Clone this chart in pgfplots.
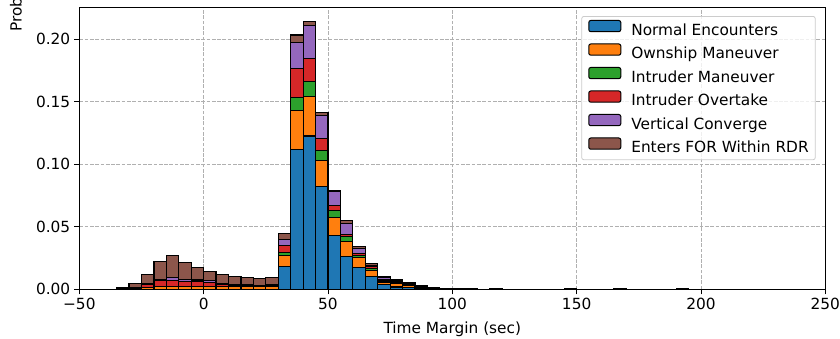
\documentclass[border=0pt]{standalone}
\usepackage{pgfplots}
\pgfplotsset{compat=1.18}
\usepackage{pgfplotstable}
\usepackage{fontspec}
\setmainfont{DejaVu Sans}

% tab10 palette
\definecolor{cBlue}{HTML}{1F77B4}
\definecolor{cOrange}{HTML}{FF7F0E}
\definecolor{cGreen}{HTML}{2CA02C}
\definecolor{cRed}{HTML}{D62728}
\definecolor{cPurple}{HTML}{9467BD}
\definecolor{cBrown}{HTML}{8C564B}
\definecolor{gridgray}{HTML}{B0B0B0}

\newcommand\lbl{\fontsize{15.4}{18.5}\selectfont}

% Per-bin probability of each encounter class (bins 5 s wide, x = bin centre)
\pgfplotstableread{
x      nrm    own    intm   intov  vert   efor
-32.5  0      0.0003 0      0.0003 0.0002 0.0008
-27.5  0      0.0005 0      0.0010 0.0003 0.0030
-22.5  0      0.0015 0.0002 0.0025 0.0006 0.0072
-17.5  0      0.0021 0.0002 0.0046 0.0013 0.0144
-12.5  0      0.0021 0.0002 0.0046 0.0024 0.0181
-7.5   0      0.0021 0.0002 0.0038 0.0021 0.0134
-2.5   0      0.0021 0.0002 0.0039 0.0013 0.0101
2.5    0      0.0021 0.0004 0.0030 0.0014 0.0072
7.5    0      0.0021 0.0004 0.0015 0.0010 0.0072
12.5   0      0.0021 0.0002 0.0012 0.0007 0.0064
17.5   0      0.0021 0.0002 0.0007 0.0006 0.0057
22.5   0      0.0021 0.0002 0.0005 0.0006 0.0051
27.5   0      0.0027 0.0002 0.0005 0.0006 0.0058
32.5   0.0186 0.0086 0.0021 0.0061 0.0046 0.0048
37.5   0.1122 0.0307 0.0104 0.0232 0.0211 0.0058
42.5   0.1226 0.0315 0.0120 0.0187 0.0261 0.0032
47.5   0.0821 0.0208 0.0085 0.0091 0.0187 0.0024
52.5   0.0434 0.0139 0.0056 0.0045 0.0107 0.0013
57.5   0.0266 0.0115 0.0040 0.0019 0.0088 0.0021
62.5   0.0176 0.0080 0.0018 0.0014 0.0040 0.0013
67.5   0.0106 0.0048 0.0014 0.0012 0.0014 0.0014
72.5   0.0037 0.0023 0.0010 0.0008 0.0014 0.0009
77.5   0.0020 0.0028 0.0008 0.0008 0.0010 0.0008
82.5   0.0015 0.0015 0.0006 0.0006 0.0006 0.0005
87.5   0.0005 0.0007 0.0006 0.0004 0.0005 0.0005
92.5   0.0002 0.0003 0.0003 0.0002 0.0003 0.0005
97.5   0      0.0002 0.0001 0.0002 0.0002 0.0003
102.5  0      0      0      0      0.0002 0.0004
107.5  0      0      0      0      0.0002 0.0003
117.5  0      0      0      0      0      0.0005
147.5  0      0      0      0      0      0.0004
167.5  0      0      0      0      0      0.0005
192.5  0      0      0      0      0      0.0006
}\histdata

\pgfplotsset{
  histpatch/.style={
    fill=#1, draw=black, line width=1.2bp,
    legend image code/.code={%
      \draw[##1, line width=1bp, fill opacity=1, draw opacity=1]
        (0bp,-0.3bp) rectangle (32bp,10.9bp);}
  }
}

\begin{document}
\begin{tikzpicture}
\begin{axis}[
  at={(0,0)}, anchor=south west,
  scale only axis, width=745.7bp, height=282bp,
  xmin=-50, xmax=250, ymin=0, ymax=0.2256,
  ybar stacked, bar width=5,
  xtick={-50,0,50,100,150,200,250},
  xticklabels={−50,0,50,100,150,200,250},
  ytick={0,0.05,0.1,0.15,0.2},
  yticklabels={0.00,0.05,0.10,0.15,0.20},
  tick pos=left, tick align=outside,
  major tick length=4.9bp,
  every tick/.style={black, line width=0.8bp},
  axis line style={line width=0.8bp},
  tick label style={font=\lbl},
  xticklabel style={inner sep=3.2bp},
  yticklabel style={inner sep=4bp},
  grid=major,
  major grid style={gridgray, line width=0.8bp, dash pattern=on 3.7bp off 1.6bp},
  xlabel={Time Margin (sec)},
  xlabel style={font=\lbl, at={(axis description cs:0.5,0)}, anchor=base, yshift=-44.4bp},
  ylabel={Probability},
  ylabel style={font=\lbl, at={(axis description cs:-0.0772,0.9018)}, anchor=base west},
  legend cell align=left,
  legend style={
    at={(0.987,0.969)}, anchor=north east,
    draw=black!20, rounded corners=2bp, line width=0.8bp,
    fill=white, fill opacity=0.8, text opacity=1, draw opacity=1,
    font=\lbl, inner xsep=6.5bp, inner ysep=3.5bp,
    row sep=4.8bp, column sep=10bp,
    nodes={inner sep=0pt, text height=11.2bp, text depth=3.4bp},
  },
]
\addplot[histpatch=cBlue]   table[x=x, y=nrm]   {\histdata};
\addlegendentry{Normal Encounters}
\addplot[histpatch=cOrange] table[x=x, y=own]   {\histdata};
\addlegendentry{Ownship Maneuver}
\addplot[histpatch=cGreen]  table[x=x, y=intm]  {\histdata};
\addlegendentry{Intruder Maneuver}
\addplot[histpatch=cRed]    table[x=x, y=intov] {\histdata};
\addlegendentry{Intruder Overtake}
\addplot[histpatch=cPurple] table[x=x, y=vert]  {\histdata};
\addlegendentry{Vertical Converge}
\addplot[histpatch=cBrown]  table[x=x, y=efor]  {\histdata};
\addlegendentry{Enters FOR Within RDR}
\end{axis}
\pgfresetboundingbox
\useasboundingbox ([shift={(-79.3bp,-48.7bp)}]current axis.south west)
  rectangle ([shift={(14.7bp,7.3bp)}]current axis.north east);
\end{tikzpicture}
\end{document}
